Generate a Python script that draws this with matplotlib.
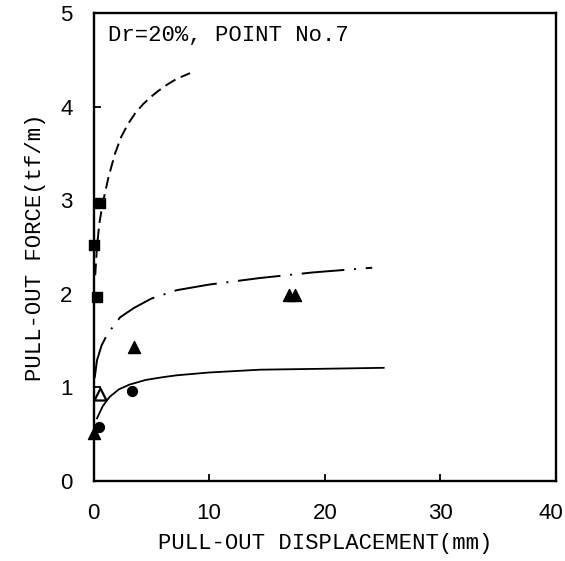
import matplotlib.pyplot as plt
from matplotlib.transforms import ScaledTranslation

# curves
dash_x = [0.15, 0.3, 0.5, 0.8, 1.3, 1.86, 2.4, 3.0, 3.6, 4.3, 5.0, 5.6, 6.4, 7.2, 8.35]
dash_y = [2.2, 2.5, 2.75, 2.97, 3.25, 3.5, 3.68, 3.82, 3.93, 4.03, 4.11, 4.17, 4.24, 4.3, 4.36]

dashdot_x = [0.1, 0.3, 0.7, 1.2, 2.3, 3.5, 5.0, 7.2, 10.0, 14.4, 19.0, 24.1]
dashdot_y = [1.1, 1.29, 1.45, 1.57, 1.75, 1.85, 1.95, 2.04, 2.1, 2.17, 2.23, 2.28]

solid_x = [0.3, 0.8, 1.4, 2.2, 3.1, 4.5, 6.0, 7.2, 10.0, 14.4, 20.0, 25.1]
solid_y = [0.67, 0.8, 0.9, 0.98, 1.03, 1.08, 1.11, 1.13, 1.16, 1.19, 1.2, 1.21]

# measured points
sq_x = [0.0, 0.6, 0.3]
sq_y = [2.52, 2.97, 1.97]
tri_x = [0.0, 3.5, 16.9, 17.4]
tri_y = [0.51, 1.43, 1.99, 1.99]
tri_open_x = [0.6]
tri_open_y = [0.93]
circ_x = [0.45, 3.3]
circ_y = [0.58, 0.96]

mono = 'Liberation Mono'
sans = 'Liberation Sans'

fig = plt.figure(figsize=(5.65, 5.61), dpi=100)
ax = fig.add_axes([93.5 / 565, 80 / 561, 462.5 / 565, 467.7 / 561])

ax.plot(dash_x, dash_y, color='black', lw=1.4, dashes=(6, 3))
ax.plot(dashdot_x, dashdot_y, color='black', lw=1.4, dashes=(22, 5, 1, 5))
ax.plot(solid_x, solid_y, color='black', lw=1.3)

ax.scatter(sq_x, sq_y, marker='s', s=45, color='black', zorder=3, clip_on=False)
ax.scatter(tri_x, tri_y, marker='^', s=75, color='black', zorder=3, clip_on=False)
ax.scatter(tri_open_x, tri_open_y, marker='^', s=75, facecolors='white',
           edgecolors='black', linewidths=1.6, zorder=3, clip_on=False)
ax.scatter(circ_x, circ_y, marker='o', s=50, color='black', zorder=3, clip_on=False)

ax.set_xlim(0, 40)
ax.set_ylim(0, 5)
ax.set_xticks([0, 10, 20, 30, 40])
ax.set_yticks([0, 1, 2, 3, 4, 5])
ax.tick_params(direction='in', length=5, width=1.3, labelsize=16)
ax.tick_params(axis='x', pad=16)
ax.tick_params(axis='y', pad=15)
for lab in ax.get_xticklabels() + ax.get_yticklabels():
    lab.set_family(sans)
# last x label sits a little left of the corner in the original
last = ax.get_xticklabels()[-1]
last.set_transform(last.get_transform() + ScaledTranslation(-5 / 100, 0, fig.dpi_scale_trans))
for sp in ax.spines.values():
    sp.set_linewidth(1.7)

ax.text(0.032, 0.975, 'Dr=20%, POINT No.7', transform=ax.transAxes,
        family=mono, fontsize=16, va='top', ha='left')
ax.set_xlabel('PULL-OUT DISPLACEMENT(mm)', family=mono, fontsize=16, labelpad=6)
ax.set_ylabel('PULL-OUT FORCE(tf/m)', family=mono, fontsize=16, labelpad=10)

fig.savefig('out.png', dpi=100)
